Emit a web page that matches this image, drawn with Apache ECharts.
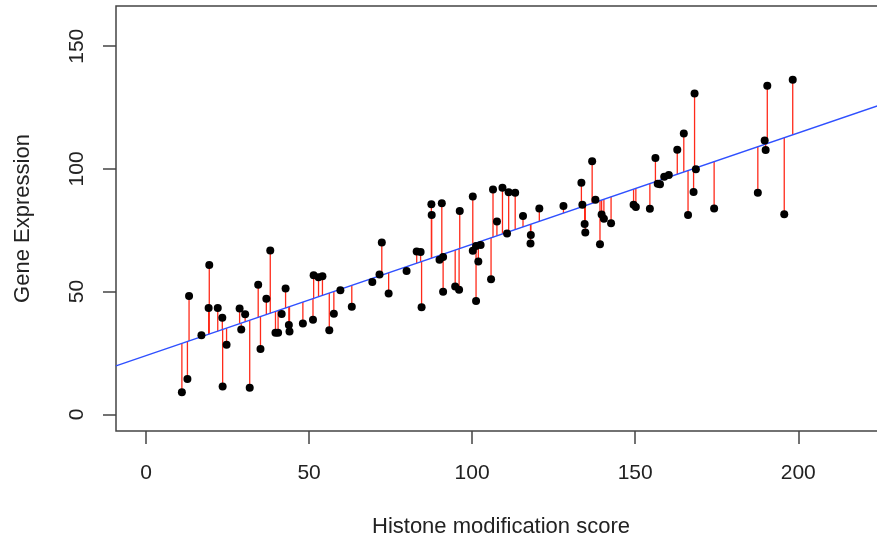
<!DOCTYPE html>
<html lang="en">
<head>
    <meta charset="utf-8">
    <title>Gene Expression vs Histone modification score</title>
    <script src="https://cdn.jsdelivr.net/npm/echarts@6/dist/echarts.min.js"></script>
    <style>
        html, body { margin: 0; padding: 0; background: #fff; overflow: hidden; }
        /* a bit wider than the window so the right edge of the box falls off the picture */
        #box { width: 886px; height: 539px; }
    </style>
</head>
<body>
    <div id="box"></div>
    <script>
        // histone modification score (x) and gene expression (y)
        var histone = [11.0, 12.7, 13.2, 17.0, 19.4, 19.2, 22.0, 23.4, 23.5, 24.7, 28.7, 29.2, 30.4, 31.8, 34.4, 35.1, 36.9, 38.1, 39.7, 40.5,
            41.6, 42.8, 43.8, 44.0, 48.1, 51.2, 51.4, 52.9, 54.1, 56.2, 57.6, 59.6, 63.1, 69.4, 71.6, 72.3, 74.4, 79.9, 83.0, 84.2,
            84.5, 87.5, 87.6, 90.0, 90.7, 91.1, 91.1, 94.8, 96.0, 96.2, 100.2, 100.2, 101.2, 101.2, 101.9, 102.6, 105.8, 106.4, 107.6, 109.3,
            110.7, 111.2, 113.2, 115.6, 117.9, 118.0, 120.6, 128.0, 133.5, 133.8, 134.5, 134.7, 136.8, 137.8, 139.2, 139.7, 140.4, 142.6, 149.5, 150.2,
            154.5, 156.2, 156.9, 157.6, 158.9, 160.3, 162.9, 164.9, 166.2, 167.9, 168.2, 168.6, 174.2, 187.6, 189.7, 190.0, 190.5, 195.7, 198.3];
        var expression = [9.0, 14.4, 48.2, 32.2, 60.9, 43.3, 43.3, 39.4, 11.3, 28.3, 43.1, 34.6, 40.8, 10.8, 52.8, 26.6, 47.1, 66.8, 33.2, 33.2,
            40.9, 51.3, 36.4, 33.8, 37.0, 38.5, 56.7, 55.9, 56.3, 34.3, 41.0, 50.6, 43.8, 53.9, 57.0, 70.0, 49.2, 58.4, 66.4, 66.1,
            43.6, 85.6, 81.2, 63.0, 86.0, 64.1, 49.9, 52.1, 50.8, 82.9, 88.8, 66.7, 68.6, 46.2, 62.3, 69.0, 55.0, 91.6, 78.6, 92.3,
            73.7, 90.5, 90.3, 80.8, 69.6, 73.1, 83.9, 84.9, 94.4, 85.4, 77.6, 74.1, 103.1, 87.4, 69.3, 81.4, 79.7, 77.9, 85.4, 84.5,
            83.8, 104.5, 94.0, 93.8, 96.8, 97.5, 107.8, 114.4, 81.2, 90.6, 130.7, 99.9, 83.9, 90.3, 111.6, 107.7, 133.9, 81.5, 136.3];

        // fitted line
        var intercept = 23.9;
        var slope = 0.454;

        var xTicks = [0, 50, 100, 150, 200];
        var yTicks = [0, 50, 100, 150];

        var xMin = -9.2, xMax = 226.9;
        var yMin = -6.8, yMax = 166.4;

        var points = [];
        var residuals = [];
        for (var i = 0; i < histone.length; i++) {
            points.push([histone[i], expression[i]]);
            residuals.push([histone[i], expression[i], intercept + slope * histone[i]]);
        }
        var fitLine = [[xMin, intercept + slope * xMin], [xMax, intercept + slope * xMax]];

        var font = "'Liberation Sans', Arial, sans-serif";
        var myChart = echarts.init(document.getElementById("box"));

        var option = {
            animation: false,
            backgroundColor: '#fff',
            grid: {
                left: 116,
                top: 6,
                right: 0,
                bottom: 108,
                outerBoundsMode: 'none',
                containLabel: false,
                show: true,
                borderColor: '#444',
                borderWidth: 1.5,
                backgroundColor: 'transparent'
            },
            xAxis: {
                type: 'value',
                min: xMin,
                max: xMax,
                name: 'Histone modification score',
                nameLocation: 'middle',
                nameGap: 85,
                nameTextStyle: { fontFamily: font, fontSize: 22, color: '#222' },
                axisLine: { show: false, onZero: false },
                splitLine: { show: false },
                axisTick: { show: true, inside: false, length: 13, lineStyle: { color: '#444', width: 1.5 }, customValues: xTicks },
                axisLabel: { fontFamily: font, fontSize: 21, color: '#222', margin: 32, customValues: xTicks }
            },
            yAxis: {
                type: 'value',
                min: yMin,
                max: yMax,
                name: 'Gene Expression',
                nameLocation: 'middle',
                nameGap: 82,
                nameRotate: 90,
                nameTextStyle: { fontFamily: font, fontSize: 22, color: '#222' },
                axisLine: { show: false, onZero: false },
                splitLine: { show: false },
                axisTick: { show: true, inside: false, length: 13, lineStyle: { color: '#444', width: 1.5 }, customValues: yTicks },
                axisLabel: { fontFamily: font, fontSize: 21, color: '#222', margin: 28, rotate: 90, customValues: yTicks }
            },
            series: [
                {
                    // residuals: from each point to the fitted line
                    type: 'custom',
                    data: residuals,
                    renderItem: function (params, api) {
                        var p1 = api.coord([api.value(0), api.value(1)]);
                        var p2 = api.coord([api.value(0), api.value(2)]);
                        return {
                            type: 'line',
                            shape: { x1: p1[0], y1: p1[1], x2: p2[0], y2: p2[1] },
                            style: { stroke: '#ff2a1a', lineWidth: 1.3 }
                        };
                    },
                    z: 2
                },
                {
                    type: 'line',
                    data: fitLine,
                    symbol: 'none',
                    lineStyle: { color: '#2f50ff', width: 1.4 },
                    z: 3
                },
                {
                    type: 'scatter',
                    data: points,
                    symbol: 'circle',
                    symbolSize: 8,
                    itemStyle: { color: '#000', opacity: 1 },
                    z: 4
                }
            ]
        };
        myChart.setOption(option);
    </script>
</body>
</html>
